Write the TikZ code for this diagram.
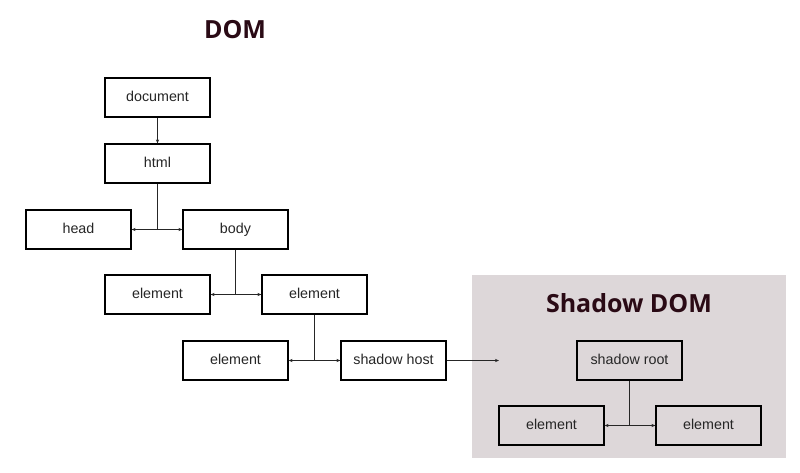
\documentclass[tikz,border=0pt]{standalone}
\usepackage{fontspec}
\setmainfont{Liberation Sans}
\newfontfamily\titlefont{Open Sans}
\usetikzlibrary{arrows.meta}
\definecolor{shadowbg}{HTML}{DDD7D9}
\definecolor{titlecol}{HTML}{2A0A15}
\tikzset{
  box/.style={draw=black, line width=1.2pt, fill=white, minimum width=105pt, minimum height=39pt, inner sep=0pt, text height=10pt, text depth=3pt, font=\fontsize{14.3}{16}\selectfont, text=black!85},
  sbox/.style={box, fill=shadowbg},
  conn/.style={line width=0.9pt, draw=black!85},
  tip/.style={-{Stealth[length=4pt,width=3.2pt]}},
  title/.style={font=\titlefont\bfseries\fontsize{25}{28}\selectfont, text=titlecol}
}
\begin{document}
\begin{tikzpicture}[x=1pt,y=-1pt]
\useasboundingbox (0,0) rectangle (800,472);
\fill[shadowbg] (472,275) rectangle (786,458);
\node[title] (domt) at (235,30) {DOM};
\node[title] (sdomt) at (629,303) {Shadow DOM};
\node[box] (doc) at (157.5,97.5) {document};
\node[box] (html) at (157.5,163.5) {html};
\node[box] (head) at (78.5,229.5) {head};
\node[box] (body) at (235.5,229.5) {body};
\node[box] (el1) at (157.5,294.5) {element};
\node[box] (el2) at (314.5,294.5) {element};
\node[box] (el3) at (235.5,360.5) {element};
\node[box] (host) at (393.5,360.5) {shadow host};
\node[sbox] (root) at (629.5,360.5) {shadow root};
\node[sbox] (el4) at (551.5,425.5) {element};
\node[sbox] (el5) at (708.5,425.5) {element};
\coordinate (hostend) at (499,360.5);
\draw[conn,tip] (doc) -- (html);
\draw[conn] (html.south) -- (html.south |- head.east) coordinate (j1);
\draw[conn,tip] (j1) -- (head.east);
\draw[conn,tip] (j1) -- (body.west);
\draw[conn] (body.south) -- (body.south |- el1.east) coordinate (j2);
\draw[conn,tip] (j2) -- (el1.east);
\draw[conn,tip] (j2) -- (el2.west);
\draw[conn] (el2.south) -- (el2.south |- el3.east) coordinate (j3);
\draw[conn,tip] (j3) -- (el3.east);
\draw[conn,tip] (j3) -- (host.west);
\draw[conn,tip] (host.east) -- (hostend);
\draw[conn] (root.south) -- (root.south |- el4.east) coordinate (j4);
\draw[conn,tip] (j4) -- (el4.east);
\draw[conn,tip] (j4) -- (el5.west);
\end{tikzpicture}
\end{document}
